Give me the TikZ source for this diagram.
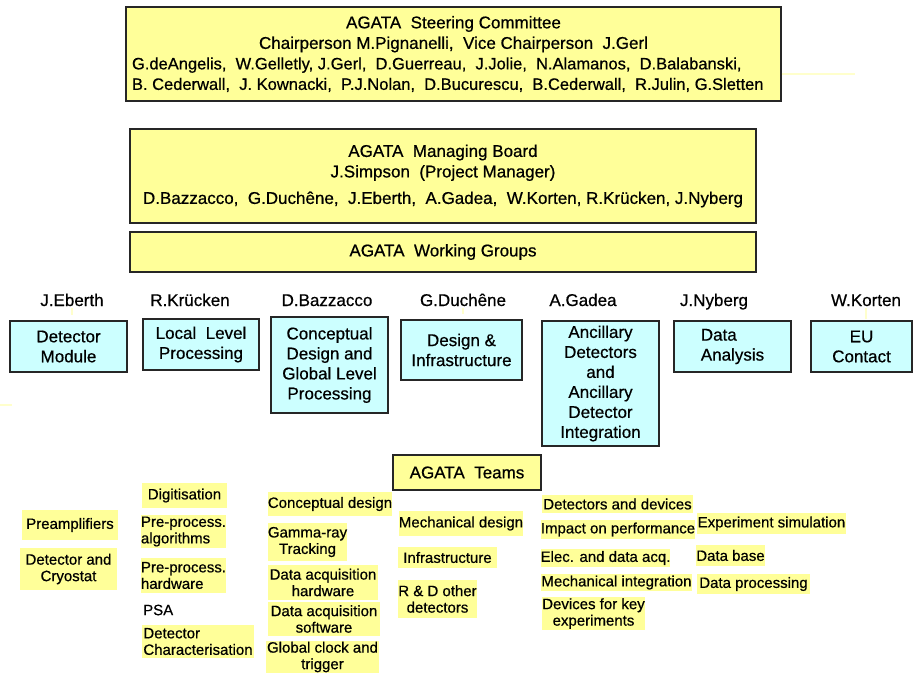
\documentclass[tikz,border=0pt]{standalone}
\usepackage{fontspec}
\setmainfont{Liberation Sans}[FakeBold=0.6]
\definecolor{yel}{HTML}{FFFF99}
\definecolor{pale}{HTML}{FFFFCC}
\definecolor{cyb}{HTML}{CCFFFF}
\newcommand{\namefont}{\fontsize{16.5}{20}\selectfont}
\begin{document}
\begin{tikzpicture}[x=1pt,y=-1pt,
  bigbox/.style={draw=black!85, line width=1.5pt, fill=yel, align=center, inner sep=0pt,
    font=\fontsize{17}{20.5}\selectfont},
  wgbox/.style={draw=black!85, line width=1.5pt, fill=cyb, align=center, inner sep=0pt,
    font=\fontsize{17}{20}\selectfont},
  leader/.style={inner sep=0pt, anchor=base, font=\fontsize{17}{20}\selectfont},
  team/.style={fill=yel, inner sep=0pt, align=center, font=\fontsize{15}{16.5}\selectfont},
  teaml/.style={team, align=left},
  plain/.style={inner sep=0pt, font=\fontsize{15}{16.5}\selectfont},
  faint/.style={draw=pale, line width=1.6pt}]
\useasboundingbox (0,0) rectangle (915,673);

% top boxes
\node[bigbox, minimum width=655pt, minimum height=94pt] (sc) at (453.5,54)
  {AGATA~~Steering Committee\\
   Chairperson M.Pignanelli,~~Vice Chairperson~~J.Gerl\\
   \makebox[643pt][l]{\namefont G.deAngelis,~~W.Gelletly, J.Gerl,~~D.Guerreau,~~J.Jolie,~~N.Alamanos,~~D.Balabanski,}\\
   \makebox[643pt][l]{\namefont B. Cederwall,~~J. Kownacki,~~P.J.Nolan,~~D.Bucurescu,~~B.Cederwall,~~R.Julin, G.Sletten}};
\node[bigbox, minimum width=626pt, minimum height=94pt] (mb) at (443,176)
  {AGATA~~Managing Board\\
   J.Simpson~~(Project Manager)\\[6pt]
   D.Bazzacco,~~G.Duchêne,~~J.Eberth,~~A.Gadea,~~W.Korten, R.Krücken, J.Nyberg};
\node[bigbox, minimum width=626pt, minimum height=40pt] (wg) at (443,252)
  {AGATA~~Working Groups};

% leaders
\node[leader] (l1) at (72,306) {J.Eberth};
\node[leader] (l2) at (190,306) {R.Krücken};
\node[leader] (l3) at (327,306) {D.Bazzacco};
\node[leader] (l4) at (463,306) {G.Duchêne};
\node[leader] (l5) at (583,306) {A.Gadea};
\node[leader] (l6) at (714,306) {J.Nyberg};
\node[leader] (l7) at (866,306) {W.Korten};

% working groups
\node[wgbox, minimum width=117pt, minimum height=51pt] (dm) at (68.5,346.5) {Detector\\Module};
\node[wgbox, minimum width=116pt, minimum height=51pt] (llp) at (201,344.5) {Local~~Level\\Processing};
\node[wgbox, minimum width=117pt, minimum height=96pt] (cgl) at (329.5,365)
  {Conceptual\\Design and\\Global Level\\Processing};
\node[wgbox, minimum width=121pt, minimum height=60pt] (di) at (461.5,350) {Design \&\\Infrastructure};
\node[wgbox, minimum width=117pt, minimum height=125pt] (anc) at (600.5,383.5)
  {Ancillary\\Detectors\\and\\Ancillary\\Detector\\Integration};
\node[wgbox, align=left, minimum width=117pt, minimum height=51pt] (da) at (732.5,346.5) {Data\\Analysis};
\node[wgbox, minimum width=101pt, minimum height=51pt] (eu) at (861.5,346.5) {EU\\Contact};

% faint connector remnants
\coordinate (scr) at (855,74);
\draw[faint] (sc.east |- scr) -- (scr);
\draw[faint] ([yshift=-2pt]l1.south) -- ([yshift=5pt]l1.south |- dm.north);
\draw[faint] ([yshift=-2pt]l4.south) -- ([yshift=5pt]l4.south |- di.north);
\draw[faint] ([yshift=-2pt]l7.south) -- ([yshift=1pt]l7.south |- eu.north);
\coordinate (le1) at (0,405);
\coordinate (le2) at (12,405);
\draw[faint] (le1) -- (le2);

% teams
\node[bigbox, minimum width=148pt, minimum height=35pt] (teams) at (467,472.5) {AGATA~~Teams};

\node[team, minimum width=96pt, minimum height=30pt] (t11) at (70,525) {Preamplifiers};
\node[team, minimum width=97pt, minimum height=42pt] (t12) at (68.5,569) {Detector and\\Cryostat};

\node[team, minimum width=85pt, minimum height=25pt] (t21) at (184.5,495.5) {Digitisation};
\node[teaml, minimum width=83pt, minimum height=33pt] (t22) at (183.5,531.5) {Pre-process.\\algorithms};
\node[teaml, minimum width=83pt, minimum height=35pt] (t23) at (183.5,575.5) {Pre-process.\\hardware};
\node[plain, anchor=west] (t24) at (143,610) {PSA};
\node[teaml, minimum width=112pt, minimum height=33pt] (t25) at (198,641.5) {Detector\\Characterisation};

\node[team, minimum width=124pt, minimum height=24pt] (t31) at (330,504) {Conceptual design};
\node[team, minimum width=79pt, minimum height=38pt] (t32) at (307.5,542) {Gamma-ray\\Tracking};
\node[team, minimum width=110pt, minimum height=35pt] (t33) at (323,582.5) {Data acquisition\\hardware};
\node[team, minimum width=112pt, minimum height=34pt] (t34) at (324,619) {Data acquisition\\software};
\node[team, minimum width=113pt, minimum height=32pt] (t35) at (322.5,657) {Global clock and\\trigger};

\node[team, minimum width=124pt, minimum height=25pt] (t41) at (461,523.5) {Mechanical design};
\node[team, minimum width=99pt, minimum height=21pt] (t42) at (447.5,557.5) {Infrastructure};
\node[team, minimum width=77pt, minimum height=38pt] (t43) at (437.5,599) {R \& D other\\detectors};

\node[team, minimum width=151pt, minimum height=18pt] (t51) at (617.5,504) {Detectors and devices};
\node[team, minimum width=154pt, minimum height=19pt] (t52) at (618,529.5) {Impact on performance};
\node[team, minimum width=129pt, minimum height=18pt] (t53) at (605.5,558) {Elec. and data acq.};
\node[team, minimum width=151pt, minimum height=17pt] (t54) at (616.5,582.5) {Mechanical integration};
\node[team, minimum width=103pt, minimum height=33pt] (t55) at (593.5,613.5) {Devices for key\\experiments};

\node[team, minimum width=149pt, minimum height=21pt] (t61) at (771.5,523.5) {Experiment simulation};
\node[team, minimum width=67pt, minimum height=21pt] (t62) at (730.5,555.5) {Data base};
\node[team, minimum width=113pt, minimum height=20pt] (t63) at (753.5,584) {Data processing};
\end{tikzpicture}
\end{document}
